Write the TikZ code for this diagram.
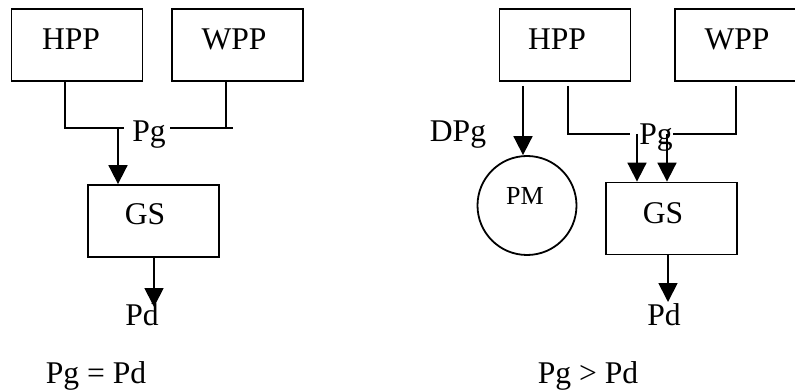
\documentclass[tikz,border=0pt]{standalone}
\usepackage{fontspec}
\setmainfont{Liberation Serif}
\usetikzlibrary{arrows.meta}
\begin{document}
\begin{tikzpicture}[x=1pt,y=-1pt,
  line width=1.8pt,
  unitbox/.style={draw, rectangle, minimum width=131pt, minimum height=72pt, inner sep=0pt},
  lbl/.style={inner sep=0pt, anchor=base, font=\fontsize{31.6}{36}\selectfont},
  small/.style={inner sep=0pt, anchor=base, font=\fontsize{26}{30}\selectfont},
  flow/.style={-{Triangle[length=19pt,width=19pt]}},
  wire/.style={line cap=rect}]
\useasboundingbox (0,0) rectangle (795,390);
\clip (0,0) rectangle (795,390);

% ---- left scheme: all generation delivered to the grid ----
\node[unitbox] (hppL) at (77,45) {};
\node[unitbox] (wppL) at (237.5,45) {};
\node[unitbox] (gsL)  at (153.5,221) {};
\node[lbl] (hppLt) at (71,50)  {HPP};
\node[lbl] (wppLt) at (234,50) {WPP};
\node[lbl] (gsLt)  at (145,225) {GS};
\node[lbl] (pgL)   at (149,142) {Pg};
\node[lbl] (pdL)   at (142,325) {Pd};
\node[lbl] (eqL)   at (96,383) {Pg = Pd};

\coordinate (hL) at (65,128);
\coordinate (hLend) at (124,128);
\coordinate (wLbeg) at (170,128);
\coordinate (wLend) at (233,128);
\coordinate (wL) at (226,128);
\coordinate (dL) at (118,128);
\coordinate (oL) at (154,307);

\draw (hppL.south -| hL) -- (hL) -- (hLend);
\draw (wLbeg) -- (wLend);
\draw (wppL.south -| wL) -- (wL);
\draw[flow] (dL) -- (gsL.north -| dL);
\draw[flow] (gsL.south -| oL) -- (oL);

% ---- right scheme: surplus sent to the pumped storage ----
\node[unitbox] (hppR) at (565,45) {};
\node[draw, rectangle, minimum width=135pt, minimum height=72pt, inner sep=0pt] (wppR) at (742.5,45) {};
\node[unitbox] (gsR)  at (671.5,218.5) {};
\node[draw, circle, minimum size=99pt, inner sep=0pt] (pm) at (527,205.5) {};
\node[lbl] (hppRt) at (557,50)  {HPP};
\node[lbl] (wppRt) at (737,50)  {WPP};
\node[lbl] (gsRt)  at (663,223) {GS};
\node[small] (pmt) at (525,205) {PM};
\node[lbl] (dpg)   at (458,142) {DPg};
\node[lbl] (pgR)   at (656,145) {Pg};
\node[lbl] (pdR)   at (664,325) {Pd};
\node[lbl] (gtR)   at (588,383) {Pg > Pd};

\coordinate (sR) at (523,86);
\coordinate (hR) at (568,134);
\coordinate (hRtop) at (568,86);
\coordinate (hRend) at (630,134);
\coordinate (wRbeg) at (673,134);
\coordinate (wR) at (736,134);
\coordinate (wRtop) at (736,86);
\coordinate (aR) at (637,134);
\coordinate (bR) at (667,134);
\coordinate (oR) at (668,302);

\draw[flow] (sR) -- (pm.north -| sR);
\draw (hRtop) -- (hR) -- (hRend);
\draw (wRbeg) -- (wR) -- (wRtop);
\draw[flow] (aR) -- (gsR.north -| aR);
\draw[flow] (bR) -- (gsR.north -| bR);
\draw[flow] (gsR.south -| oR) -- (oR);
\end{tikzpicture}
\end{document}
